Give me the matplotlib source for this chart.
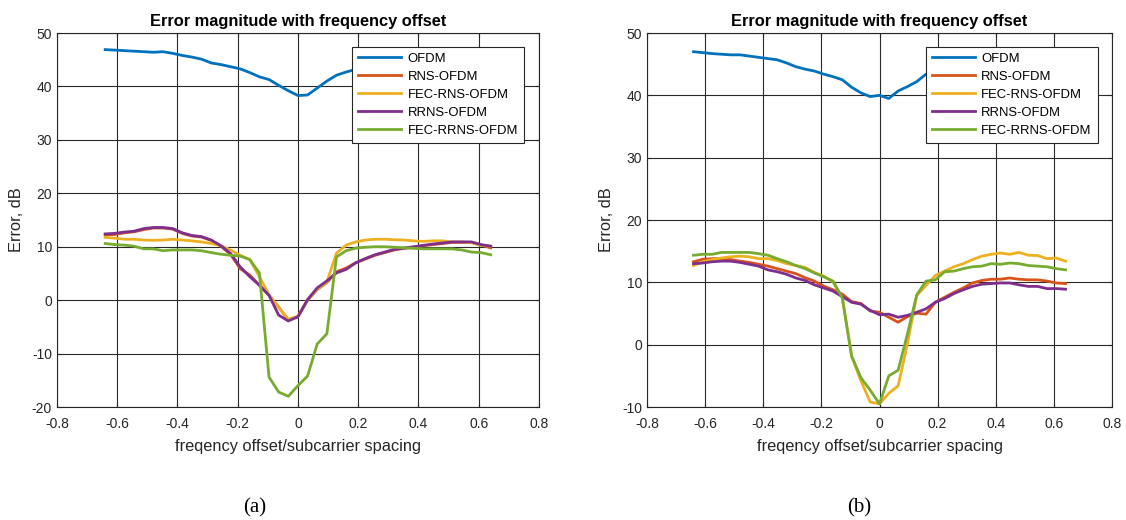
import numpy as np
import matplotlib
matplotlib.use('Agg')
import matplotlib.pyplot as plt

# frequency offset / subcarrier spacing (sample points)
offset = [-0.64, -0.608, -0.576, -0.544, -0.512, -0.48, -0.448, -0.416, -0.384, -0.352,
          -0.32, -0.288, -0.256, -0.224, -0.192, -0.16, -0.128, -0.096, -0.064, -0.032,
          0.0, 0.032, 0.064, 0.096, 0.128, 0.16, 0.192, 0.224, 0.256, 0.288,
          0.32, 0.352, 0.384, 0.416, 0.448, 0.48, 0.512, 0.544, 0.576, 0.608, 0.64]

labels = ['OFDM', 'RNS-OFDM', 'FEC-RNS-OFDM', 'RRNS-OFDM', 'FEC-RRNS-OFDM']
colors = ['#0072BD', '#D95319', '#EDB120', '#7E2F8E', '#77AC30']

# (a)
ofdm_a = [46.9, 46.8, 46.7, 46.6, 46.5, 46.4, 46.5, 46.2, 45.8, 45.5,
          45.1, 44.4, 44.1, 43.7, 43.3, 42.6, 41.8, 41.3, 40.2, 39.2,
          38.3, 38.4, 39.7, 41.0, 42.1, 42.7, 43.2, 43.8, 44.2, 44.6,
          45.0, 45.3, 45.6, 45.9, 46.1, 46.3, 46.4, 46.5, 46.6, 46.7, 46.8]
rns_a = [12.2, 12.3, 12.6, 12.8, 13.2, 13.5, 13.5, 13.3, 12.5, 12.0,
         11.8, 11.2, 10.1, 8.6, 5.9, 4.7, 2.8, 0.9, -1.3, -3.7,
         -3.1, 0.0, 2.0, 3.3, 5.3, 6.0, 7.0, 7.7, 8.4, 8.9,
         9.4, 9.7, 9.9, 10.2, 10.4, 10.6, 10.8, 10.8, 10.8, 10.3, 9.8]
fec_rns_a = [11.75, 11.6, 11.4, 11.4, 11.25, 11.2, 11.25, 11.4, 11.25, 11.1,
             10.9, 10.6, 10.2, 9.4, 8.4, 7.6, 4.4, 1.0, -1.4, -3.6,
             -3.0, 0.1, 2.1, 3.4, 8.8, 10.3, 10.9, 11.25, 11.4, 11.4,
             11.3, 11.25, 11.1, 11.0, 11.1, 11.1, 10.9, 10.9, 10.75, 10.25, 10.1]
rrns_a = [12.4, 12.5, 12.75, 12.9, 13.4, 13.6, 13.6, 13.4, 12.6, 12.1,
          11.9, 11.25, 10.2, 8.75, 6.25, 4.4, 2.8, 0.9, -2.8, -3.9,
          -3.1, 0.1, 2.3, 3.6, 5.1, 5.75, 7.0, 7.8, 8.5, 9.0,
          9.5, 9.75, 10.0, 10.25, 10.5, 10.7, 10.9, 10.9, 10.9, 10.4, 10.1]
fec_rrns_a = [10.6, 10.4, 10.3, 10.1, 9.6, 9.6, 9.25, 9.4, 9.4, 9.4,
              9.25, 8.9, 8.6, 8.4, 8.25, 7.6, 5.1, -14.4, -17.2, -18.0,
              -16.0, -14.2, -8.2, -6.3, 8.1, 9.25, 9.75, 9.9, 10.0, 10.0,
              9.9, 9.8, 9.7, 9.6, 9.6, 9.6, 9.6, 9.4, 9.0, 8.9, 8.5]

# (b)
ofdm_b = [47.0, 46.85, 46.7, 46.6, 46.5, 46.5, 46.3, 46.1, 45.9, 45.7,
          45.2, 44.6, 44.2, 43.9, 43.4, 43.0, 42.5, 41.3, 40.4, 39.8,
          40.0, 39.5, 40.7, 41.4, 42.2, 43.4, 43.5, 43.9, 44.3, 44.7,
          45.0, 45.3, 45.6, 45.9, 46.1, 46.3, 46.5, 46.6, 46.7, 46.8, 46.9]
rns_b = [13.3, 13.7, 13.8, 13.8, 13.65, 13.4, 13.2, 12.9, 12.6, 12.2,
         11.8, 11.4, 10.75, 10.2, 9.4, 8.8, 8.1, 6.9, 6.6, 5.4,
         5.2, 4.4, 3.6, 4.5, 5.05, 4.9, 6.8, 7.6, 8.4, 9.1,
         9.9, 10.3, 10.5, 10.5, 10.7, 10.5, 10.4, 10.4, 10.2, 9.9, 9.8]
fec_rns_b = [12.7, 13.3, 13.65, 13.9, 14.1, 14.2, 14.1, 13.8, 13.8, 13.5,
             13.0, 12.7, 12.4, 11.6, 11.0, 10.05, 7.5, -1.9, -5.8, -9.2,
             -9.5, -7.8, -6.6, 0.1, 7.9, 9.5, 11.1, 11.8, 12.5, 13.0,
             13.65, 14.2, 14.5, 14.7, 14.5, 14.8, 14.35, 14.3, 13.8, 13.9, 13.4]
rrns_b = [13.0, 13.1, 13.3, 13.4, 13.4, 13.2, 12.9, 12.6, 12.0, 11.7,
          11.3, 10.7, 10.3, 9.6, 9.1, 8.6, 7.7, 6.8, 6.5, 5.5,
          4.8, 4.9, 4.4, 4.7, 5.2, 5.75, 6.8, 7.4, 8.2, 8.8,
          9.35, 9.7, 9.8, 9.9, 9.9, 9.6, 9.35, 9.35, 9.0, 9.0, 8.9]
fec_rrns_b = [14.35, 14.5, 14.5, 14.8, 14.8, 14.8, 14.8, 14.6, 14.35, 13.8,
              13.3, 12.7, 12.2, 11.5, 10.9, 10.2, 7.5, -1.8, -5.3, -7.3,
              -9.5, -5.0, -4.1, 1.7, 8.0, 10.2, 10.4, 11.7, 11.8, 12.2,
              12.5, 12.6, 13.0, 12.9, 13.1, 13.0, 12.7, 12.6, 12.5, 12.2, 12.0]

xticks = [-0.8, -0.6, -0.4, -0.2, 0, 0.2, 0.4, 0.6, 0.8]
xticklabels = ['-0.8', '-0.6', '-0.4', '-0.2', '0', '0.2', '0.4', '0.6', '0.8']

plt.rcParams['font.family'] = ['Liberation Sans', 'DejaVu Sans']
plt.rcParams['axes.unicode_minus'] = False


def draw(ax, series, yticks):
    for s, lab, c in zip(series, labels, colors):
        ax.plot(offset, s, color=c, linewidth=2, label=lab)
    ax.set_xlim(-0.8, 0.8)
    ax.set_ylim(yticks[0], yticks[-1])
    ax.set_xticks(xticks)
    ax.set_xticklabels(xticklabels)
    ax.set_yticks(yticks)
    ax.grid(True, color='#2a2a2a', linewidth=0.8)
    ax.set_axisbelow(True)
    ax.tick_params(direction='in', top=True, right=True, labelsize=10,
                   colors='#262626', length=3)
    ax.tick_params(axis='x', pad=7)
    for sp in ax.spines.values():
        sp.set_color('#262626')
        sp.set_linewidth(0.8)
    ax.set_title('Error magnitude with frequency offset', fontsize=11.8,
                 fontweight='bold', pad=5)
    ax.set_xlabel('freqency offset/subcarrier spacing', fontsize=11.8,
                  color='#262626', labelpad=6)
    ax.set_ylabel('Error, dB', fontsize=11.8, color='#262626', labelpad=6)
    leg = ax.legend(loc='upper right', bbox_to_anchor=(0.969, 0.963),
                    borderaxespad=0, fontsize=9.4, fancybox=False,
                    framealpha=1, edgecolor='#262626', handlelength=3.3,
                    labelspacing=0.45, borderpad=0.45, handletextpad=0.5)
    leg.get_frame().set_linewidth(0.8)


fig = plt.figure(figsize=(11.26, 5.2), dpi=100)
ax1 = fig.add_axes([0.0506, 0.2173, 0.428, 0.7192])
ax2 = fig.add_axes([0.5746, 0.2173, 0.413, 0.7192])

draw(ax1, [ofdm_a, rns_a, fec_rns_a, rrns_a, fec_rrns_a], [-20, -10, 0, 10, 20, 30, 40, 50])
draw(ax2, [ofdm_b, rns_b, fec_rns_b, rrns_b, fec_rrns_b], [-10, 0, 10, 20, 30, 40, 50])

fig.text(0.2265, 0.015, '(a)', fontsize=15, ha='center', family=['Liberation Serif', 'DejaVu Serif'])
fig.text(0.763, 0.015, '(b)', fontsize=15, ha='center', family=['Liberation Serif', 'DejaVu Serif'])

fig.savefig('out.png', dpi=100)
